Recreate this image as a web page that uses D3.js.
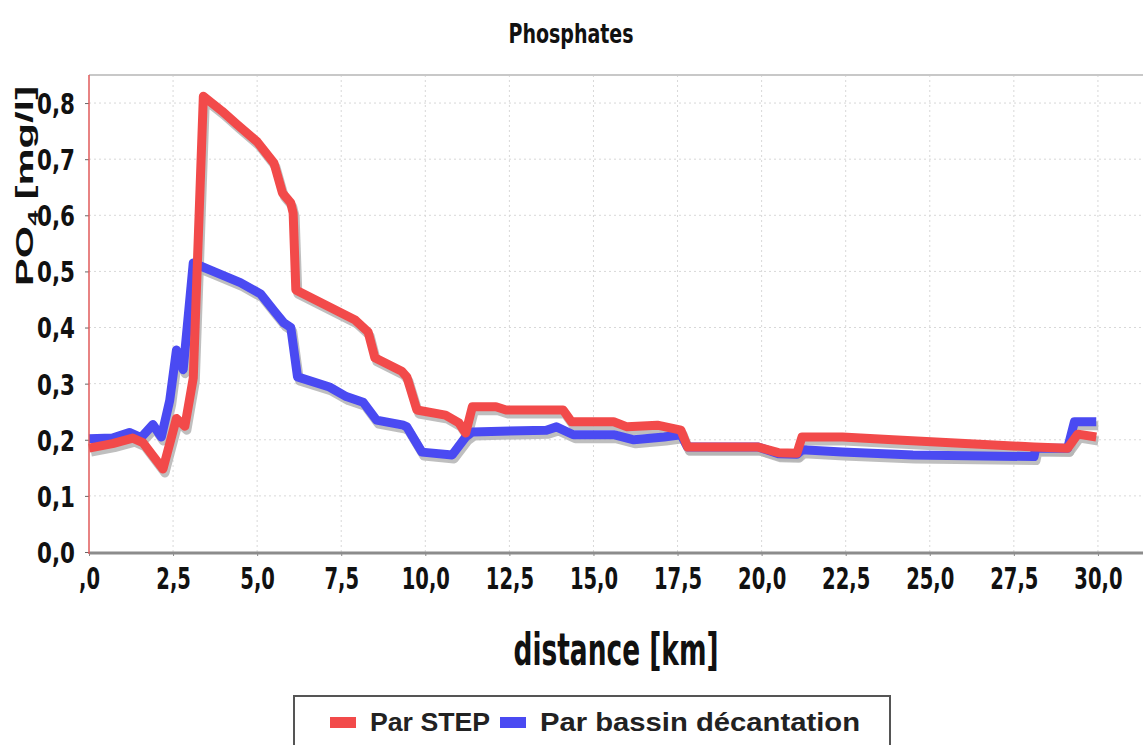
<!DOCTYPE html>
<html>
<head>
<meta charset="utf-8">
<script src="https://cdn.jsdelivr.net/npm/d3@7"></script>
<style>
  html, body { margin: 0; padding: 0; background: #fff; }
  svg { display: block; }
</style>
</head>
<body>
<svg id="chart" width="1143" height="745"></svg>
<script>
// ---- data ----
const chartTitle = "Phosphates";
const xTitle = "distance [km]";
const seriesNames = ["Par STEP", "Par bassin décantation"];
const seriesColors = ["#f24a4a", "#4a4af2"];

const xTicks = [0, 2.5, 5, 7.5, 10, 12.5, 15, 17.5, 20, 22.5, 25, 27.5, 30];
const xTickLabels = [",0", "2,5", "5,0", "7,5", "10,0", "12,5", "15,0", "17,5", "20,0", "22,5", "25,0", "27,5", "30,0"];
const yTicks = [0, 0.1, 0.2, 0.3, 0.4, 0.5, 0.6, 0.7, 0.8];
const yTickLabels = ["0,0", "0,1", "0,2", "0,3", "0,4", "0,5", "0,6", "0,7", "0,8"];

const stepKm = [0, 0.7, 1.3, 1.6, 2.2, 2.6, 2.85, 3.1, 3.4, 3.95, 4.4, 5.0, 5.5, 5.75, 6.0, 6.07, 6.15, 6.9, 7.9, 8.3, 8.5, 9.3, 9.45, 9.75, 10.6, 11.0, 11.2, 11.4, 12.1, 12.4, 14.1, 14.35, 15.6, 16.0, 16.9, 17.6, 17.8, 19.9, 20.5, 21.05, 21.2, 22.4, 23.9, 25.9, 28.1, 29.1, 29.4, 29.95];
const stepPO4 = [0.185, 0.193, 0.203, 0.195, 0.148, 0.238, 0.224, 0.31, 0.812, 0.786, 0.762, 0.731, 0.693, 0.64, 0.622, 0.604, 0.467, 0.444, 0.414, 0.392, 0.346, 0.322, 0.312, 0.253, 0.244, 0.23, 0.212, 0.259, 0.259, 0.253, 0.253, 0.232, 0.232, 0.223, 0.226, 0.217, 0.187, 0.187, 0.177, 0.176, 0.205, 0.205, 0.2, 0.194, 0.187, 0.185, 0.21, 0.205];

const bassinKm = [0, 0.7, 1.2, 1.55, 1.9, 2.15, 2.4, 2.6, 2.8, 3.1, 3.7, 4.5, 5.1, 5.5, 5.8, 6.0, 6.2, 7.15, 7.65, 8.15, 8.55, 9.35, 9.45, 9.9, 10.8, 11.2, 11.4, 13.6, 13.9, 14.4, 15.6, 16.2, 17.1, 17.6, 17.8, 19.9, 20.5, 21.05, 21.2, 22.4, 24.5, 28.1, 28.15, 29.1, 29.3, 29.95];
const bassinPO4 = [0.202, 0.203, 0.213, 0.204, 0.227, 0.205, 0.27, 0.36, 0.325, 0.515, 0.5, 0.48, 0.46, 0.43, 0.408, 0.4, 0.312, 0.294, 0.277, 0.267, 0.235, 0.226, 0.223, 0.178, 0.173, 0.205, 0.214, 0.217, 0.223, 0.209, 0.209, 0.2, 0.205, 0.209, 0.187, 0.187, 0.175, 0.174, 0.182, 0.178, 0.173, 0.17, 0.185, 0.185, 0.232, 0.232];

// ---- layout ----
const svg = d3.select("#chart");
const x = d3.scaleLinear().domain([0, 31.34]).range([89, 1143]);
const y = d3.scaleLinear().domain([0, 0.85]).range([552, 75]);

const narrow = "'Liberation Sans Narrow', 'Arial Narrow', 'DejaVu Sans Condensed', sans-serif";
const sans = "'Liberation Sans', Arial, sans-serif";

// grid
const grid = svg.append("g");
grid.selectAll("line.gx").data(xTicks.slice(1)).join("line")
  .attr("x1", d => x(d)).attr("x2", d => x(d)).attr("y1", y(0.85)).attr("y2", y(0))
  .attr("stroke", "#d8d8d8").attr("stroke-width", 1).attr("stroke-dasharray", "2,3");
grid.selectAll("line.gy").data(yTicks.slice(1)).join("line")
  .attr("x1", x(0)).attr("x2", 1143).attr("y1", d => y(d)).attr("y2", d => y(d))
  .attr("stroke", "#d8d8d8").attr("stroke-width", 1).attr("stroke-dasharray", "2,3");

// top border
svg.append("line").attr("x1", x(0)).attr("x2", 1143).attr("y1", y(0.85)).attr("y2", y(0.85))
  .attr("stroke", "#c8c8c8").attr("stroke-width", 2);

// series
const seriesData = [
  d3.zip(stepKm, stepPO4),
  d3.zip(bassinKm, bassinPO4)
];
const line = d3.line().x(d => x(d[0])).y(d => y(d[1]));
const order = [1, 0]; // blue first, red on top
const plot = svg.append("g");
order.forEach(i => {
  plot.append("path").datum(seriesData[i]).attr("d", line)
    .attr("fill", "none").attr("stroke", "#b4b4b4").attr("stroke-width", 9)
    .attr("stroke-linejoin", "round").attr("transform", "translate(2,4)").attr("opacity", 0.85);
});
order.forEach(i => {
  plot.append("path").datum(seriesData[i]).attr("d", line)
    .attr("fill", "none").attr("stroke", seriesColors[i]).attr("stroke-width", 9)
    .attr("stroke-linejoin", "round");
});

// x axis
const xAxis = d3.axisBottom(x).tickValues(xTicks).tickFormat((d, i) => xTickLabels[i]).tickSize(4).tickSizeOuter(0);
const gx = svg.append("g").attr("transform", `translate(0,${y(0)})`).call(xAxis);
gx.select(".domain").remove();
gx.selectAll(".tick line").attr("stroke", "#888");
gx.selectAll(".tick text").attr("y", 37).attr("dy", 0)
  .attr("font-family", narrow).attr("font-weight", "bold").attr("font-size", 31).attr("fill", "#111")
  .attr("class", "cond").attr("data-f", 0.7);
svg.append("line").attr("x1", x(0)).attr("x2", 1143).attr("y1", y(0) + 1).attr("y2", y(0) + 1)
  .attr("stroke", "#8c8c8c").attr("stroke-width", 3);

// y axis
const yAxis = d3.axisLeft(y).tickValues(yTicks).tickFormat((d, i) => yTickLabels[i]).tickSize(4).tickSizeOuter(0);
const gy = svg.append("g").attr("transform", `translate(${x(0)},0)`).call(yAxis);
gy.select(".domain").remove();
gy.selectAll(".tick line").attr("stroke", "#666");
gy.selectAll(".tick text").attr("x", -14).attr("dy", "0.36em")
  .attr("font-family", narrow).attr("font-weight", "bold").attr("font-size", 29).attr("fill", "#111")
  .attr("class", "cond").attr("data-f", 0.82);
svg.append("line").attr("x1", x(0)).attr("x2", x(0)).attr("y1", y(0.85)).attr("y2", y(0) + 2)
  .attr("stroke", "#e05a5a").attr("stroke-width", 1.5);

// title
svg.append("text").attr("x", 571).attr("y", 43).attr("text-anchor", "middle")
  .attr("font-family", narrow).attr("font-weight", "bold").attr("font-size", 27).attr("fill", "#111")
  .attr("textLength", 125).attr("lengthAdjust", "spacingAndGlyphs")
  .text(chartTitle);

// x title
svg.append("text").attr("x", 616).attr("y", 665).attr("text-anchor", "middle")
  .attr("font-family", narrow).attr("font-weight", "bold").attr("font-size", 44).attr("fill", "#111")
  .attr("textLength", 205).attr("lengthAdjust", "spacingAndGlyphs")
  .text(xTitle);

// y title (rotated)
const yt = svg.append("text").attr("transform", "translate(33,186) rotate(-90)").attr("text-anchor", "middle")
  .attr("font-family", sans).attr("font-weight", "bold").attr("font-size", 23).attr("fill", "#111")
  .attr("textLength", 200).attr("lengthAdjust", "spacingAndGlyphs");
yt.append("tspan").text("PO");
yt.append("tspan").attr("font-size", 15).attr("dy", 5).text("4");
yt.append("tspan").attr("dy", -5).text(" [mg/l]");

// condense tick labels
svg.selectAll("text.cond").each(function() {
  const f = +this.getAttribute("data-f");
  const w = this.getComputedTextLength();
  d3.select(this).attr("textLength", w * f).attr("lengthAdjust", "spacingAndGlyphs");
});

// legend
const lg = svg.append("g");
lg.append("rect").attr("x", 294).attr("y", 696).attr("width", 596).attr("height", 70)
  .attr("fill", "#fff").attr("stroke", "#555").attr("stroke-width", 2);
const legX = [330, 500];
const legTextX = [370, 540];
const legW = [120, 320];
seriesNames.forEach((n, i) => {
  lg.append("rect").attr("x", legX[i]).attr("y", 717).attr("width", 26).attr("height", 11)
    .attr("fill", seriesColors[i]);
  lg.append("text").attr("x", legTextX[i]).attr("y", 731)
    .attr("font-family", sans).attr("font-weight", "bold").attr("font-size", 25).attr("fill", "#222")
    .attr("textLength", legW[i]).attr("lengthAdjust", "spacingAndGlyphs")
    .text(n);
});
</script>
</body>
</html>
